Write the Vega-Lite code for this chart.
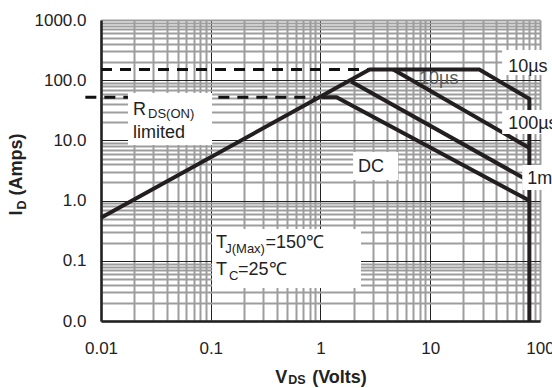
{
  "$schema": "https://vega.github.io/schema/vega-lite/v6.json",
  "width": 439,
  "height": 301,
  "autosize": {"type": "none"},
  "padding": {"left": 101, "top": 20, "right": 12, "bottom": 67},
  "background": "white",
  "config": {"view": {"stroke": null}, "font": "Liberation Sans"},
  "datasets": {
    "curves": [
      {"s": "10us", "i": 0, "v": 0.01, "a": 0.52},
      {"s": "10us", "i": 1, "v": 2.8, "a": 150},
      {"s": "10us", "i": 2, "v": 28, "a": 150},
      {"s": "10us", "i": 3, "v": 80, "a": 49},
      {"s": "10us", "i": 4, "v": 80, "a": 0.01},
      {"s": "100us", "i": 0, "v": 4.6, "a": 150},
      {"s": "100us", "i": 1, "v": 80, "a": 7.5},
      {"s": "1ms", "i": 0, "v": 1.9, "a": 95},
      {"s": "1ms", "i": 1, "v": 80, "a": 2.1},
      {"s": "DC", "i": 0, "v": 1.02, "a": 52},
      {"s": "DC", "i": 1, "v": 1.4, "a": 52},
      {"s": "DC", "i": 2, "v": 80, "a": 1.0}
    ],
    "dashes": [
      {"s": "top", "i": 0, "v": 0.01, "a": 150},
      {"s": "top", "i": 1, "v": 2.8, "a": 150},
      {"s": "low", "i": 0, "v": 0.0072, "a": 52},
      {"s": "low", "i": 1, "v": 0.9, "a": 52}
    ],
    "boxes": [
      {"x1": 0.0176, "x2": 0.1028, "y1": 8.4, "y2": 61.2},
      {"x1": 1.98, "x2": 5.09, "y1": 2.2, "y2": 6.41},
      {"x1": 0.1028, "x2": 2.34, "y1": 0.0353, "y2": 0.337},
      {"x1": 45.2, "x2": 300, "y1": 122, "y2": 318},
      {"x1": 45.2, "x2": 300, "y1": 12.8, "y2": 32},
      {"x1": 68.9, "x2": 300, "y1": 1.5, "y2": 3.9}
    ],
    "labels": [
      {"k": "main", "t": "R", "v": 0.0196, "a": 26.4},
      {"k": "main", "t": "limited", "v": 0.0196, "a": 10.97},
      {"k": "main", "t": "DC", "v": 2.2, "a": 2.99},
      {"k": "main", "t": "T", "v": 0.1117, "a": 0.163},
      {"k": "main", "t": "=150℃", "v": 0.316, "a": 0.163},
      {"k": "main", "t": "T", "v": 0.1117, "a": 0.0581},
      {"k": "main", "t": "=25℃", "v": 0.1774, "a": 0.0581},
      {"k": "main", "t": "10µs", "v": 51.3, "a": 136.8},
      {"k": "main", "t": "100µs", "v": 51.3, "a": 15.45},
      {"k": "main", "t": "1ms", "v": 76.4, "a": 1.89},
      {"k": "sub", "t": "DS(ON)", "v": 0.0268, "a": 23.5},
      {"k": "sub", "t": "J(Max)", "v": 0.1355, "a": 0.135},
      {"k": "sub", "t": "C", "v": 0.147, "a": 0.048},
      {"k": "ghost", "t": "10µs", "v": 7.9, "a": 85}
    ]
  },
  "resolve": {"axis": {"x": "independent", "y": "independent"}},
  "layer": [
    {
      "data": {"name": "labels"},
      "transform": [{"filter": "datum.k == 'ghost'"}],
      "mark": {"type": "text", "align": "left", "baseline": "alphabetic", "fontSize": 18, "font": "Liberation Sans", "color": "#5a5a5a", "clip": false},
      "encoding": {
        "x": {"field": "v", "type": "quantitative", "scale": {"type": "log", "domain": [0.01, 100], "nice": false}, "axis": null},
        "y": {"field": "a", "type": "quantitative", "scale": {"type": "log", "domain": [0.01, 1000], "nice": false}, "axis": null},
        "text": {"field": "t"}
      }
    },
    {
      "data": {"name": "dashes"},
      "mark": {"type": "line", "color": "#111111", "strokeWidth": 3, "strokeDash": [11, 8], "clip": false},
      "encoding": {
        "x": {"field": "v", "type": "quantitative", "scale": {"type": "log", "domain": [0.01, 100], "nice": false}, "axis": null},
        "y": {"field": "a", "type": "quantitative", "scale": {"type": "log", "domain": [0.01, 1000], "nice": false}, "axis": null},
        "detail": {"field": "s"},
        "order": {"field": "i"}
      }
    },
    {
      "data": {"name": "curves"},
      "mark": {"type": "line", "color": "#231f20", "strokeWidth": 4, "clip": false},
      "encoding": {
        "x": {
          "field": "v", "type": "quantitative",
          "scale": {"type": "log", "domain": [0.01, 100], "nice": false},
          "axis": {
            "orient": "bottom",
            "values": [0.01,0.02,0.03,0.04,0.05,0.06,0.07,0.08,0.09,0.1,0.2,0.3,0.4,0.5,0.6,0.7,0.8,0.9,1,2,3,4,5,6,7,8,9,10,20,30,40,50,60,70,80,90,100],
            "labelExpr": "indexof([0.01,0.1,1,10,100], datum.value) >= 0 ? format(datum.value, '~g') : ''",
            "grid": true,
            "gridColor": {"condition": {"test": "indexof([0.1,1,10], datum.value) >= 0", "value": "#222222"}, "value": "#9d9d9d"},
            "gridWidth": {"condition": {"test": "indexof([0.1,1,10], datum.value) >= 0", "value": 1}, "value": 2},
            "ticks": false, "tickSize": 0,
            "domain": true, "domainColor": "#222222", "domainWidth": 2.5,
            "labelFont": "Liberation Sans", "labelFontSize": 17, "labelColor": "#222222",
            "labelBaseline": "alphabetic", "labelPadding": 32, "labelFlush": false, "labelOverlap": false,
            "title": "V\u00a0\u00a0\u00a0\u00a0\u00a0(Volts)",
            "titleFont": "Liberation Sans", "titleFontSize": 18, "titleFontWeight": "bold", "titleColor": "#222222",
            "titleBaseline": "alphabetic", "titleAlign": "center", "titleX": 219.5, "titleY": 61
          }
        },
        "y": {
          "field": "a", "type": "quantitative",
          "scale": {"type": "log", "domain": [0.01, 1000], "nice": false},
          "axis": {
            "orient": "left",
            "values": [0.01,0.02,0.03,0.04,0.05,0.06,0.07,0.08,0.09,0.1,0.2,0.3,0.4,0.5,0.6,0.7,0.8,0.9,1,2,3,4,5,6,7,8,9,10,20,30,40,50,60,70,80,90,100,200,300,400,500,600,700,800,900,1000],
            "labelExpr": "indexof([0.01,0.1,1,10,100,1000], datum.value) >= 0 ? format(datum.value, '.1f') : ''",
            "grid": true,
            "gridColor": {"condition": {"test": "indexof([0.1,1,10,100], datum.value) >= 0", "value": "#222222"}, "value": "#9d9d9d"},
            "gridWidth": {"condition": {"test": "indexof([0.1,1,10,100], datum.value) >= 0", "value": 1}, "value": 2},
            "ticks": false, "tickSize": 0,
            "domain": true, "domainColor": "#222222", "domainWidth": 2.5,
            "labelFont": "Liberation Sans", "labelFontSize": 17, "labelColor": "#222222",
            "labelPadding": 15, "labelFlush": false, "labelOverlap": false,
            "title": "I\u00a0\u00a0\u00a0(Amps)",
            "titleFont": "Liberation Sans", "titleFontSize": 18, "titleFontWeight": "bold", "titleColor": "#222222",
            "titleAngle": 270, "titleBaseline": "alphabetic", "titleAlign": "center", "titleX": -80, "titleY": 154
          }
        },
        "detail": {"field": "s"},
        "order": {"field": "i"}
      }
    },
    {
      "data": {"name": "boxes"},
      "mark": {"type": "rect", "color": "white", "clip": false},
      "encoding": {
        "x": {
          "field": "x1", "type": "quantitative",
          "scale": {"type": "log", "domain": [0.01, 100], "nice": false},
          "axis": {
            "orient": "bottom", "labels": false, "ticks": false, "domain": false, "grid": false,
            "title": "DS", "titleFont": "Liberation Sans", "titleFontSize": 12.5, "titleFontWeight": "bold", "titleColor": "#222222",
            "titleBaseline": "alphabetic", "titleAlign": "center", "titleX": 195.5, "titleY": 62.5
          }
        },
        "x2": {"field": "x2"},
        "y": {
          "field": "y1", "type": "quantitative",
          "scale": {"type": "log", "domain": [0.01, 1000], "nice": false},
          "axis": {
            "orient": "left", "labels": false, "ticks": false, "domain": false, "grid": false,
            "title": "D", "titleFont": "Liberation Sans", "titleFontSize": 12.5, "titleFontWeight": "bold", "titleColor": "#222222",
            "titleAngle": 270, "titleBaseline": "alphabetic", "titleAlign": "center", "titleX": -76, "titleY": 184.5
          }
        },
        "y2": {"field": "y2"}
      }
    },
    {
      "data": {"name": "labels"},
      "transform": [{"filter": "datum.k == 'main'"}],
      "mark": {"type": "text", "align": "left", "baseline": "alphabetic", "fontSize": 18, "font": "Liberation Sans", "color": "#222222", "clip": false},
      "encoding": {
        "x": {"field": "v", "type": "quantitative", "scale": {"type": "log", "domain": [0.01, 100], "nice": false}, "axis": null},
        "y": {"field": "a", "type": "quantitative", "scale": {"type": "log", "domain": [0.01, 1000], "nice": false}, "axis": null},
        "text": {"field": "t"}
      }
    },
    {
      "data": {"name": "labels"},
      "transform": [{"filter": "datum.k == 'sub'"}],
      "mark": {"type": "text", "align": "left", "baseline": "alphabetic", "fontSize": 13, "font": "Liberation Sans", "color": "#222222", "clip": false},
      "encoding": {
        "x": {"field": "v", "type": "quantitative", "scale": {"type": "log", "domain": [0.01, 100], "nice": false}, "axis": null},
        "y": {"field": "a", "type": "quantitative", "scale": {"type": "log", "domain": [0.01, 1000], "nice": false}, "axis": null},
        "text": {"field": "t"}
      }
    }
  ]
}
